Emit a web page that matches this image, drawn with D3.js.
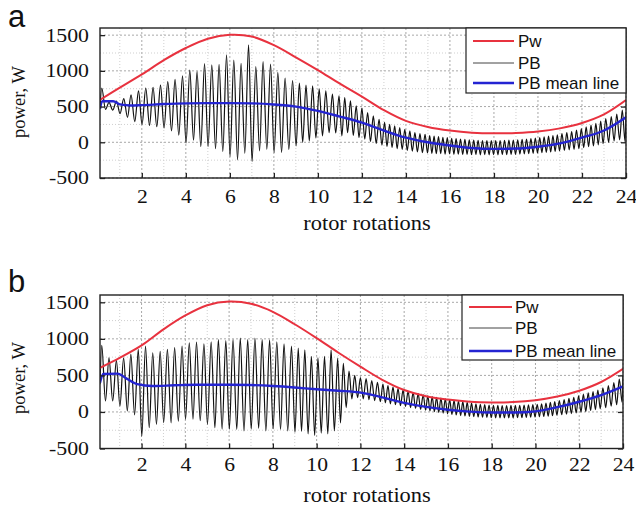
<!DOCTYPE html>
<html><head><meta charset="utf-8">
<script src="https://cdn.jsdelivr.net/npm/d3@7"></script>
<style>body{margin:0;background:#fff}svg{display:block}</style>
</head><body>
<svg id="c" width="636" height="511"></svg>
<script>
// ---------- data ----------
const xTicks = [2,4,6,8,10,12,14,16,18,20,22,24];
const xGridMinor = [1,3,5,7,9,11,13,15,17,19,21,23];
const yTicks = [-500,0,500,1000,1500];
const yGridMinor = [-250,250,750,1250];
const seriesNames = ["Pw","PB","PB mean line"];

const pwX = [0,1,2,3,4,5,6,7,8,9,10,11,12,13,14,15,16,17,18,19,20,21,22,23,24];
const pwA = [575,765,950,1150,1320,1450,1505,1480,1360,1190,1010,820,640,450,300,215,165,135,125,130,150,195,270,390,590];
const pwB = [590,740,910,1130,1320,1460,1510,1480,1370,1200,1010,810,620,440,300,215,170,140,130,135,160,210,290,410,590];

const meanAx = [0.1,0.2,0.7,1.0,1.5,2,3,4,5,6,7,8,9,10,11,12,13,14,15,16,17,18,19,20,21,22,23,24];
const meanAy = [470,575,575,530,515,520,535,545,548,548,545,530,500,440,360,275,165,65,0,-45,-80,-92,-88,-62,-15,65,165,350];
const meanBx = [0.1,0.25,0.9,1.3,1.8,2.5,3.5,4.5,6,7,8,9,10,11,12,13,14,15,16,17,18,19,20,21,22,23,24];
const meanBy = [400,520,525,460,380,355,365,372,372,368,355,335,310,290,265,200,125,70,30,5,-8,-8,8,65,140,230,350];

// PB: positions (rotor rotations) of the successive turning points, shared by both runs
const pbX = [0.10,
0.18,0.35,0.51,0.68,0.85,1.01,1.18,1.35,1.51,1.68,1.85,2.01,2.18,2.35,2.51,2.68,2.85,3.01,3.18,3.35,3.51,3.68,3.85,4.01,4.18,4.35,4.51,4.68,4.85,5.01,5.18,5.35,5.51,5.68,5.85,6.01,6.18,6.35,6.51,6.68,6.85,7.01,7.18,7.35,7.51,7.68,7.85,8.01,8.18,8.35,8.51,8.68,8.85,9.01,
9.16,9.31,9.46,9.61,9.76,9.91,10.06,10.21,10.36,10.51,10.66,10.81,10.96,
11.09,11.22,11.35,11.48,11.61,11.74,11.87,12.00,12.13,12.26,12.39,12.52,12.65,12.78,12.91,
13.03,13.14,13.26,13.37,13.49,13.60,13.72,13.83,13.95,14.06,14.18,14.29,14.41,14.52,14.64,14.75,14.87,14.98,
15.08,15.18,15.28,15.38,15.48,15.58,15.68,15.78,15.88,15.98,
16.08,16.18,16.28,16.38,16.48,16.58,16.68,16.78,16.88,16.98,
17.08,17.18,17.28,17.38,17.48,17.58,17.68,17.78,17.88,17.98,
18.08,18.18,18.28,18.38,18.48,18.58,18.68,18.78,18.88,18.98,
19.08,19.18,19.28,19.38,19.48,19.58,19.68,19.78,19.88,19.98,
20.08,20.18,20.28,20.38,20.48,20.58,20.68,20.78,20.88,20.98,
21.09,21.20,21.31,21.42,21.53,21.64,21.75,21.86,21.97,22.08,22.19,22.30,22.41,22.52,22.63,22.74,22.85,22.96,
23.08,23.21,23.33,23.46,23.58,23.71,23.83,23.96,
24.00];

const pbA = [480,
760,460,560,450,575,400,610,350,665,290,720,250,760,235,770,220,800,200,850,160,880,100,930,-10,1010,30,990,-60,1100,-60,1085,-90,1090,-130,1225,-200,1150,-245,1105,-155,1365,-270,1060,-120,1130,-100,1095,-145,980,-140,900,-100,865,-50,
830,0,800,20,790,60,745,90,720,135,675,130,650,
90,625,135,580,95,510,65,480,45,415,10,370,-20,320,-40,
280,-60,250,-75,230,-90,205,-100,180,-115,160,-125,135,-135,120,-145,110,-150,
95,-155,85,-160,80,-158,70,-165,65,-162,55,-168,50,-165,45,-170,40,-168,35,-172,
30,-170,28,-175,25,-172,22,-175,25,-172,22,-175,25,-170,28,-172,30,-168,32,-170,
35,-165,40,-162,45,-160,50,-155,58,-150,65,-145,75,-140,85,-135,95,-128,105,-120,
120,-112,135,-105,150,-98,170,-88,190,-75,215,-62,240,-50,265,-35,295,-20,
330,0,360,20,395,35,450,10,
420];

const pbB = [380,
910,150,740,150,705,80,740,15,790,-40,855,-330,900,-215,810,-170,830,-145,855,-150,880,-125,900,-100,945,-100,955,-120,930,-170,960,-215,990,-235,975,-235,990,-240,1010,-260,990,-235,1010,-225,990,-260,985,-230,960,-240,930,-260,900,-280,
875,-265,850,-300,760,-320,740,-290,760,-300,850,-260,735,
-150,665,60,560,180,500,195,470,180,455,170,430,155,405,140,
380,125,360,110,340,100,320,85,300,75,280,60,265,50,250,35,235,25,
220,15,210,5,200,-5,190,-15,180,-25,170,-35,160,-42,150,-50,140,-55,130,-60,
120,-65,112,-68,105,-72,100,-75,95,-78,92,-80,90,-80,88,-82,88,-80,90,-80,
90,-78,92,-78,95,-75,98,-72,100,-70,105,-66,112,-62,120,-58,130,-52,140,-45,
155,-38,170,-30,185,-22,200,-12,220,-2,240,8,260,20,280,32,300,45,
330,60,360,80,400,100,450,130,
500];

// ---------- drawing ----------
const RED = "#e8323f", BLUE = "#2424d2", BLACK = "#111";
const svg = d3.select("#c");
const serif = "'Liberation Serif','Times New Roman',serif";
const sans = "'Liberation Sans',Arial,sans-serif";
const plain = d => String(d);

function panel(cfg) {
  const x = d3.scaleLinear().domain([0.1, 24]).range([cfg.l, cfg.r]);
  const y = d3.scaleLinear().domain([-500, 1600]).range([cfg.b, cfg.t]);
  const g = svg.append("g");
  const cid = "clip" + cfg.name;
  svg.append("clipPath").attr("id", cid).append("rect")
    .attr("x", cfg.l).attr("y", cfg.t).attr("width", cfg.r - cfg.l).attr("height", cfg.b - cfg.t);

  // grid
  const grid = g.append("g");
  grid.selectAll(".vm").data(xGridMinor).enter().append("line")
    .attr("x1", d => x(d)).attr("x2", d => x(d)).attr("y1", cfg.t).attr("y2", cfg.b)
    .attr("stroke", "#cfcfcf").attr("stroke-width", 1).attr("stroke-dasharray", "1,2");
  grid.selectAll(".vM").data(xTicks).enter().append("line")
    .attr("x1", d => x(d)).attr("x2", d => x(d)).attr("y1", cfg.t).attr("y2", cfg.b)
    .attr("stroke", "#a8a8a8").attr("stroke-width", 1).attr("stroke-dasharray", "2,2");
  grid.selectAll(".hm").data(yGridMinor).enter().append("line")
    .attr("y1", d => y(d)).attr("y2", d => y(d)).attr("x1", cfg.l).attr("x2", cfg.r)
    .attr("stroke", "#cfcfcf").attr("stroke-width", 1).attr("stroke-dasharray", "1,2");
  grid.selectAll(".hM").data(yTicks).enter().append("line")
    .attr("y1", d => y(d)).attr("y2", d => y(d)).attr("x1", cfg.l).attr("x2", cfg.r)
    .attr("stroke", "#a8a8a8").attr("stroke-width", 1).attr("stroke-dasharray", "2,2");

  const plot = g.append("g").attr("clip-path", `url(#${cid})`);
  const lineSmooth = d3.line().x(d => x(d[0])).y(d => y(d[1])).curve(d3.curveMonotoneX);

  plot.append("path").datum(pbX.map((v, i) => [v, cfg.pb[i]]))
    .attr("d", lineSmooth).attr("fill", "none").attr("stroke", BLACK).attr("stroke-width", 1.2);
  plot.append("path").datum(pwX.map((v, i) => [v, cfg.pw[i]]))
    .attr("d", d3.line().x(d => x(d[0])).y(d => y(d[1])).curve(d3.curveCatmullRom))
    .attr("fill", "none").attr("stroke", RED).attr("stroke-width", 2);
  plot.append("path").datum(cfg.mx.map((v, i) => [v, cfg.my[i]]))
    .attr("d", lineSmooth)
    .attr("fill", "none").attr("stroke", BLUE).attr("stroke-width", 2.4);

  // axes (inward ticks)
  const ax = g.append("g").attr("transform", `translate(0,${cfg.b})`)
    .call(d3.axisBottom(x).tickValues(xTicks).tickFormat(plain).tickSize(-5).tickSizeOuter(0).tickPadding(cfg.xpad));
  const ayL = g.append("g").attr("transform", `translate(${cfg.l},0)`)
    .call(d3.axisLeft(y).tickValues(yTicks).tickFormat(plain).tickSize(-5).tickSizeOuter(0).tickPadding(11));
  const ayR = g.append("g").attr("transform", `translate(${cfg.r},0)`)
    .call(d3.axisRight(y).tickValues(yTicks).tickSize(-5).tickSizeOuter(0).tickFormat(""));
  [ax, ayL, ayR].forEach(a => {
    a.select(".domain").remove();
    a.selectAll(".tick line").attr("stroke", "#222").attr("stroke-width", 1.3);
  });
  ax.selectAll(".tick text").attr("font-family", serif).attr("font-size", 18.5).attr("fill", "#111")
    .attr("transform", "scale(1.17,1)");
  ayL.selectAll(".tick text").attr("font-family", serif).attr("font-size", 18.5).attr("fill", "#111")
    .attr("transform", "scale(1.18,1)").attr("x", -11 / 1.18);

  // frame
  g.append("rect").attr("x", cfg.l).attr("y", cfg.t).attr("width", cfg.r - cfg.l).attr("height", cfg.b - cfg.t)
    .attr("fill", "none").attr("stroke", "#222").attr("stroke-width", 1.4);

  // axis titles
  g.append("text").attr("transform", `translate(${cfg.xtx},${cfg.xty}) scale(1.12,1)`)
    .attr("text-anchor", "middle").attr("font-family", serif).attr("font-size", 20).attr("fill", "#111")
    .text("rotor rotations");
  g.append("text").attr("transform", `translate(25,${cfg.ytc}) rotate(-90)`)
    .attr("text-anchor", "middle").attr("font-family", serif).attr("font-size", 18.5).attr("fill", "#111")
    .text("power, W");
  g.append("text").attr("x", 8).attr("y", cfg.lby).attr("font-family", sans).attr("font-size", 31).attr("fill", "#111")
    .text(cfg.name);

  // legend
  const L = cfg.leg;
  const lg = g.append("g");
  lg.append("rect").attr("x", L.x0).attr("y", cfg.t).attr("width", cfg.r - L.x0).attr("height", L.h)
    .attr("fill", "#fff").attr("stroke", "#222").attr("stroke-width", 1.2);
  const cols = [RED, "#444", BLUE], widths = [2, 1, 2.4];
  seriesNames.forEach((nm, i) => {
    const yy = L.ys[i];
    lg.append("line").attr("x1", L.lx0).attr("x2", L.lx1).attr("y1", yy).attr("y2", yy)
      .attr("stroke", cols[i]).attr("stroke-width", widths[i]);
    lg.append("text").attr("x", L.tx).attr("y", yy + 6).attr("font-family", sans).attr("font-size", 17)
      .attr("fill", "#111").text(nm);
  });
}

panel({name: "a", l: 100, r: 626, t: 28, b: 178, xpad: 12, pw: pwA, pb: pbA, mx: meanAx, my: meanAy,
  xtx: 367, xty: 230, ytc: 102, lby: 27,
  leg: {x0: 466, h: 65, ys: [41, 63, 83], lx0: 473, lx1: 514, tx: 518}});
panel({name: "b", l: 100, r: 623, t: 295, b: 448.5, xpad: 9, pw: pwB, pb: pbB, mx: meanBx, my: meanBy,
  xtx: 367, xty: 502, ytc: 378, lby: 292,
  leg: {x0: 462, h: 65, ys: [307, 328, 351], lx0: 469, lx1: 512, tx: 515}});
</script>
</body></html>
